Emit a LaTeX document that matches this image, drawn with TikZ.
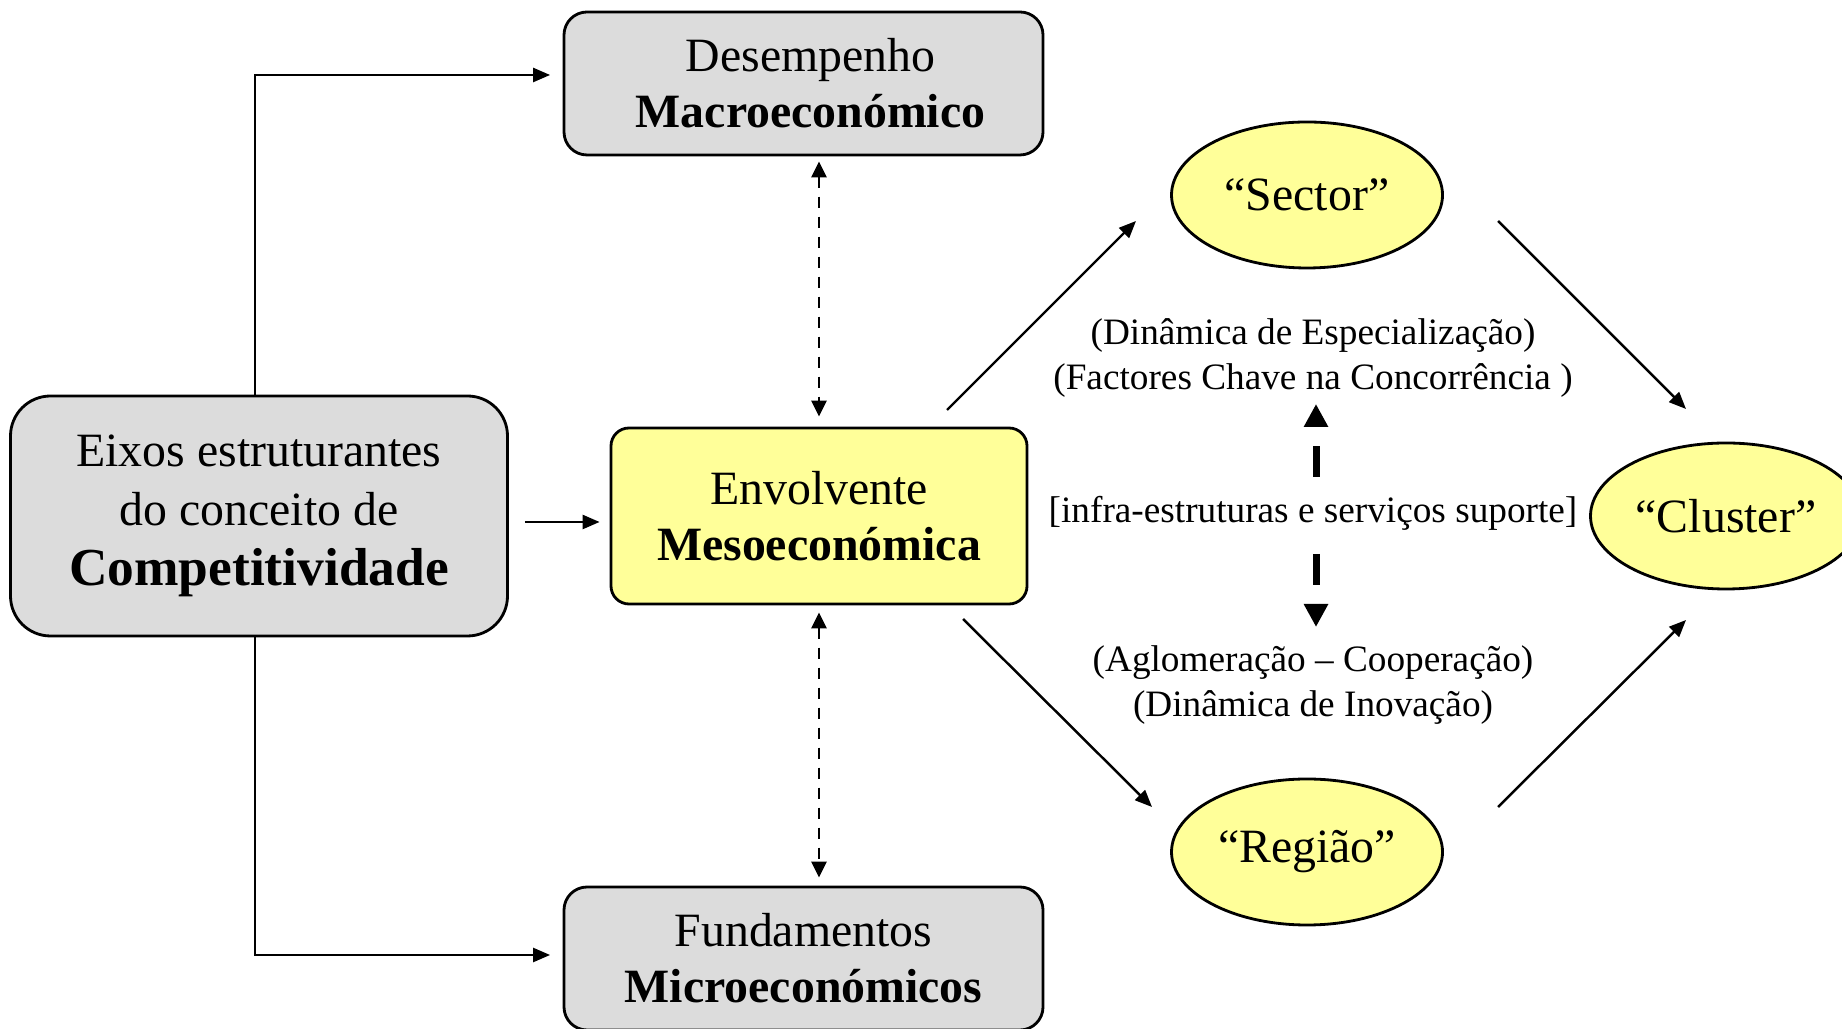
\documentclass[tikz,border=0pt]{standalone}
\usepackage{fontspec}
\setmainfont{Liberation Serif}
\usetikzlibrary{shapes.geometric,arrows.meta}

\definecolor{boxgray}{RGB}{220,220,220}
\definecolor{boxyellow}{RGB}{255,255,153}

\tikzset{
    bigtext/.style={font=\fontsize{13.6}{16}\selectfont},
    smalltext/.style={font=\fontsize{10.6}{12.7}\selectfont, align=center, inner sep=0pt},
    graybox/.style={draw, line width=0.8pt, fill=boxgray, rounded corners=2.3mm,
        align=center, inner sep=0pt, minimum width=4.79cm, minimum height=1.43cm, bigtext},
    mesobox/.style={draw, line width=0.8pt, fill=boxyellow, rounded corners=1.8mm,
        align=center, inner sep=0pt, minimum width=4.16cm, minimum height=1.76cm, bigtext},
    oval/.style={ellipse, draw, line width=0.8pt, fill=boxyellow, inner sep=0pt,
        minimum width=2.71cm, minimum height=1.46cm, bigtext},
    arr/.style={line width=0.7pt, -{Triangle[length=1.7mm,width=1.4mm]}},
    dasharr/.style={line width=0.8pt, dash pattern=on 1.1mm off 0.9mm,
        {Triangle[length=1.6mm,width=1.5mm]}-{Triangle[length=1.6mm,width=1.5mm]}},
    thickarr/.style={line width=2pt, dash pattern=on 3.1mm off 1.9mm,
        -{Triangle[length=2.3mm,width=2.3mm]}}
}

\begin{document}
\begin{tikzpicture}
    \useasboundingbox (0,0) rectangle (18.42,-10.29);

    % boxes on the left and in the middle
    \node[graybox, rounded corners=4mm, minimum width=4.97cm, minimum height=2.40cm] (eixos) at (2.59,-5.16)
        {Eixos estruturantes\\[0.8pt] do conceito de\\[1.2pt] {\fontsize{15.2}{17}\selectfont\bfseries Competitividade}};
    \node[graybox] (desemp) at (8.035,-0.835) {\hspace{1.4mm}Desempenho\\ \hspace{1.4mm}\textbf{Macroeconómico}};
    \node[mesobox] (meso) at (8.19,-5.16) {Envolvente\\ \textbf{Mesoeconómica}};
    \node[graybox] (fund) at (8.035,-9.585) {Fundamentos\\ \textbf{Microeconómicos}};

    % ellipses on the right
    \node[oval] (sector) at (13.07,-1.95) {“Sector”};
    \node[oval] (regiao) at (13.07,-8.52) {“Região”};
    \node[oval] (cluster) at (17.26,-5.16) {“Cluster”};

    % texts between the ellipses
    \node[smalltext] (especial) at (13.13,-3.58) {(Dinâmica de Especialização)\\(Factores Chave na Concorrência )};
    \node[smalltext] (infra) at (13.13,-5.13) {[infra-estruturas e serviços suporte]};
    \node[smalltext] (inova) at (13.13,-6.85) {(Aglomeração – Cooperação)\\(Dinâmica de Inovação)};

    % free ends of the diagonal arrows
    \coordinate (ms1) at (9.47,-4.10);
    \coordinate (ms2) at (11.36,-2.21);
    \coordinate (mr1) at (9.63,-6.19);
    \coordinate (mr2) at (11.52,-8.07);
    \coordinate (sc1) at (14.98,-2.21);
    \coordinate (sc2) at (16.86,-4.09);
    \coordinate (rc1) at (14.98,-8.07);
    \coordinate (rc2) at (16.86,-6.20);
    \coordinate (infraup) at (13.16,-4.04);
    \coordinate (infradown) at (13.16,-6.27);

    % draw arrows
    \draw[arr] ([xshift=-0.4mm]eixos.north) |- ([xshift=-1.25mm,yshift=0.85mm]desemp.west);
    \draw[arr] ([xshift=-0.4mm]eixos.south) |- ([xshift=-1.25mm,yshift=0.35mm]fund.west);
    \draw[arr] ([xshift=1.6mm,yshift=-0.6mm]eixos.east) -- ([xshift=-1mm,yshift=-0.6mm]meso.west);

    \draw[dasharr, shorten <=0.5mm, shorten >=1mm] (desemp.south -| meso.north) -- (meso.north);
    \draw[dasharr, shorten <=0.7mm, shorten >=0.8mm] (meso.south) -- (fund.north -| meso.south);

    \draw[arr] (ms1) -- (ms2);
    \draw[arr] (mr1) -- (mr2);
    \draw[arr] (sc1) -- (sc2);
    \draw[arr] (rc1) -- (rc2);

    \draw[thickarr] (infraup |- 0,-4.77) -- (infraup);
    \draw[thickarr] (infradown |- 0,-5.54) -- (infradown);
\end{tikzpicture}
\end{document}
